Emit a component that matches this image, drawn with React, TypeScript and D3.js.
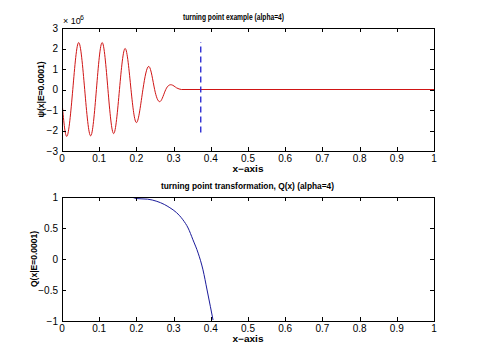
import React from 'react';
import * as d3 from 'd3';

// tick values
const xTicks = [0, 0.1, 0.2, 0.3, 0.4, 0.5, 0.6, 0.7, 0.8, 0.9, 1];
const psiTicks = [-3, -2, -1, 0, 1, 2, 3];
const qTicks = [-1, -0.5, 0, 0.5, 1];

// psi(x|E) in units of 1e6 (extrema + crossings)
const psiX = [0, 0.0134, 0.029, 0.0448, 0.061, 0.077, 0.0925, 0.108, 0.1235, 0.139, 0.1545, 0.17, 0.1855, 0.2007, 0.2175, 0.234, 0.249, 0.264, 0.279, 0.294, 0.308, 0.321];
const psiY = [-0.6, -2.28, 0, 2.29, 0, -2.26, 0, 2.29, 0, -2.15, 0, 2.0, 0, -1.61, 0, 1.12, 0, -0.585, 0, 0.23, 0.08, 0];
// flat tail after the oscillation
const tailX = [0.321, 0.373, 1];
const tailY = [0, 0, 0];

// turning point marker
const turningX = 0.373;
const turningY = [-2.1, 2.32];

// Q(x|E)
const qX = [0.19, 0.2, 0.23, 0.255, 0.275, 0.29, 0.3075, 0.325, 0.339, 0.352, 0.366, 0.379, 0.39, 0.399, 0.406];
const qY = [0.995, 0.975, 0.965, 0.93, 0.88, 0.827, 0.75, 0.633, 0.5, 0.31, 0.095, -0.175, -0.5, -0.77, -0.985];

const W = 480;
const H = 361;
const left = 62;
const right = 434;
const font = '"Liberation Sans", Arial, sans-serif';

const fmt = (v: number) => (v < 0 ? '\u2212' + String(-v) : String(v));

function Panel(props: {
  top: number;
  bottom: number;
  yDomain: [number, number];
  yTicks: number[];
  title: string;
  titleX: number;
  titleW: number;
  yLabel: string;
  yLabelX: number;
  children: (x: d3.ScaleLinear<number, number>, y: d3.ScaleLinear<number, number>) => React.ReactNode;
  id: string;
}) {
  const { top, bottom, yDomain, yTicks, title, titleX, titleW, yLabel, yLabelX, id } = props;
  const x = d3.scaleLinear().domain([0, 1]).range([left, right]);
  const y = d3.scaleLinear().domain(yDomain).range([bottom, top]);
  const tl = 4;
  return (
    <g>
      <defs>
        <clipPath id={id}>
          <rect x={left} y={top} width={right - left} height={bottom - top} />
        </clipPath>
      </defs>
      <rect x={left} y={top} width={right - left} height={bottom - top} fill="#fff" />
      <g clipPath={`url(#${id})`}>{props.children(x, y)}</g>
      <rect x={left + 0.5} y={top + 0.5} width={right - left} height={bottom - top} fill="none" stroke="#000" strokeWidth={1} />
      {xTicks.map((t) => (
        <g key={'x' + t}>
          <line x1={Math.round(x(t)) + 0.5} x2={Math.round(x(t)) + 0.5} y1={bottom} y2={bottom - tl} stroke="#000" />
          <line x1={Math.round(x(t)) + 0.5} x2={Math.round(x(t)) + 0.5} y1={top} y2={top + tl} stroke="#000" />
          <text x={x(t)} y={bottom + 11} fontSize={10} fontFamily={font} textAnchor="middle" fill="#000">
            {String(t)}
          </text>
        </g>
      ))}
      {yTicks.map((t) => (
        <g key={'y' + t}>
          <line x1={left} x2={left + tl} y1={Math.round(y(t)) + 0.5} y2={Math.round(y(t)) + 0.5} stroke="#000" />
          <line x1={right} x2={right - tl} y1={Math.round(y(t)) + 0.5} y2={Math.round(y(t)) + 0.5} stroke="#000" />
          <text x={left - 4} y={y(t) + 3.5} fontSize={10} fontFamily={font} textAnchor="end" fill="#000">
            {fmt(t)}
          </text>
        </g>
      ))}
      <text x={titleX} y={top - 8} fontSize={9} fontWeight="bold" fontFamily={font} textLength={titleW} lengthAdjust="spacingAndGlyphs" fill="#000">
        {title}
      </text>
      <text x={(left + right) / 2} y={bottom + 21} fontSize={9} fontWeight="bold" fontFamily={font} textAnchor="middle" textLength={31} lengthAdjust="spacingAndGlyphs" fill="#000">
        x−axis
      </text>
      <text
        transform={`translate(${yLabelX},${(top + bottom) / 2}) rotate(-90)`}
        fontSize={9}
        fontWeight="bold"
        fontFamily={font}
        textAnchor="middle"
        textLength={56}
        lengthAdjust="spacingAndGlyphs"
        fill="#000"
      >
        {yLabel}
      </text>
    </g>
  );
}

export default function App() {
  const psiData = psiX.map((v, i) => [v, psiY[i]] as [number, number]);
  const tailData = tailX.map((v, i) => [v, tailY[i]] as [number, number]);
  const qData = qX.map((v, i) => [v, qY[i]] as [number, number]);

  return (
    <svg width={W} height={H} style={{ position: 'absolute', left: 0, top: 0, background: '#fff' }}>
      <rect width={W} height={H} fill="#fff" />
      <Panel
        id="c1"
        top={28}
        bottom={151}
        yDomain={[-3, 3]}
        yTicks={psiTicks}
        title="turning point example (alpha=4)"
        titleX={183}
        titleW={101}
        yLabel="ψ(x|E=0.0001)"
        yLabelX={44}
      >
        {(x, y) => {
          const wave = d3
            .line<[number, number]>()
            .x((d) => x(d[0]))
            .y((d) => y(d[1]))
            .curve(d3.curveNatural);
          const flat = d3
            .line<[number, number]>()
            .x((d) => x(d[0]))
            .y((d) => y(d[1]));
          return (
            <g>
              <path d={wave(psiData) || ''} fill="none" stroke="#d01515" strokeWidth={1} />
              <path d={flat(tailData) || ''} fill="none" stroke="#d01515" strokeWidth={1} />
              <line
                x1={x(turningX)}
                x2={x(turningX)}
                y1={y(turningY[0])}
                y2={y(turningY[1])}
                stroke="#1f1fd0"
                strokeWidth={1.3}
                strokeDasharray="6,4"
              />
            </g>
          );
        }}
      </Panel>
      <text x={63} y={24} fontSize={9} fontFamily={font} fill="#000">
        × 10
      </text>
      <text x={80} y={20} fontSize={7} fontFamily={font} fill="#000">
        6
      </text>
      <Panel
        id="c2"
        top={197}
        bottom={321}
        yDomain={[-1, 1]}
        yTicks={qTicks}
        title="turning point transformation, Q(x) (alpha=4)"
        titleX={161}
        titleW={173}
        yLabel="Q(x|E=0.0001)"
        yLabelX={37}
      >
        {(x, y) => {
          const line = d3
            .line<[number, number]>()
            .x((d) => x(d[0]))
            .y((d) => y(d[1]))
            .curve(d3.curveMonotoneX);
          return <path d={line(qData) || ''} fill="none" stroke="#1a1a9a" strokeWidth={1} />;
        }}
      </Panel>
    </svg>
  );
}
